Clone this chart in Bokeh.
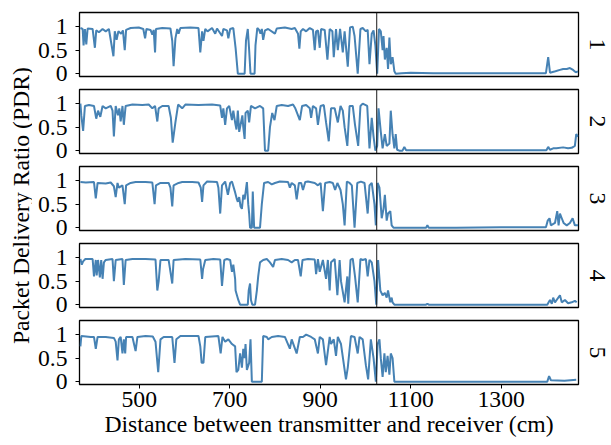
from math import pi
from bokeh.plotting import figure
from bokeh.models import Range1d, FixedTicker, Span, Label, CustomJSTickFormatter
from bokeh.layouts import row, column
from bokeh.embed import file_html
from bokeh.resources import INLINE

# ---------------- data (distance in cm, PDR) ----------------
d1 = [370, 375, 377, 380, 383, 386, 397, 402, 405, 411,
      419, 426, 433, 443, 446, 450, 454, 460, 464, 468,
      471, 481, 499, 509, 513, 516, 525, 529, 532, 535,
      537, 551, 569, 573, 576, 580, 584, 587, 591, 613,
      631, 635, 639, 642, 646, 651, 661, 668, 672, 683,
      686, 694, 697, 701, 708, 713, 718, 733, 736, 740,
      743, 746, 755, 757, 761, 765, 768, 771, 774, 778,
      785, 800, 804, 822, 837, 844, 851, 854, 857, 862,
      869, 877, 884, 888, 891, 895, 899, 902, 910, 916,
      921, 927, 930, 935, 939, 944, 950, 954, 961, 966,
      972, 976, 983, 989, 994, 1001, 1005, 1009, 1014, 1018,
      1022, 1026, 1030, 1034, 1038, 1040, 1043, 1047, 1050, 1053,
      1056, 1060, 1064, 1067, 1080, 1100, 1150, 1250, 1350, 1399,
      1404, 1408, 1420, 1430, 1437, 1445, 1452, 1459, 1465, 1470]
v1 = [0.97, 0.95, 0.6, 0.95, 0.62, 0.96, 0.95, 0.55, 0.92, 0.88,
      0.95, 0.9, 0.95, 0.37, 0.9, 0.72, 0.9, 0.85, 0.92, 0.5,
      0.93, 0.97, 0.98, 0.95, 0.75, 0.95, 0.93, 0.83, 0.93, 0.45,
      0.95, 0.97, 0.96, 0.7, 0.16, 0.75, 0.95, 0.85, 0.97, 0.98,
      0.97, 0.45, 0.9, 0.7, 0.95, 0.9, 0.97, 0.85, 0.96, 0.8,
      0.95, 0.92, 0.75, 0.95, 0.97, 0.55, 0.0, 0.0, 0.7, 0.95,
      0.5, 0.0, 0.0, 0.6, 0.97, 0.93, 0.85, 0.95, 0.72, 0.92,
      0.95, 0.85, 0.96, 0.98, 0.95, 0.97, 0.85, 0.53, 0.9, 0.95,
      0.9, 0.97, 0.93, 0.5, 0.9, 0.92, 0.55, 0.95, 0.93, 0.3,
      0.95, 0.9, 0.35, 0.95, 0.5, 0.95, 0.45, 0.9, 0.15, 0.98,
      1.0, 0.8, 0.0, 0.95, 0.97, 0.9, 0.93, 0.2, 0.85, 0.92,
      0.6, 0.0, 0.95, 0.9, 0.5, 0.8, 0.3, 0.55, 0.1, 0.77,
      0.2, 0.35, 0.05, 0.0, 0.01, 0.02, 0.01, 0.01, 0.01, 0.01,
      0.35, 0.02, 0.05, 0.08, 0.1, 0.1, 0.12, 0.08, 0.03, 0.05]

d2 = [370, 372, 376, 380, 389, 400, 405, 409, 414, 419,
      426, 437, 441, 444, 448, 453, 456, 459, 463, 466,
      470, 485, 507, 521, 529, 535, 540, 543, 551, 565,
      570, 574, 580, 586, 595, 602, 631, 661, 679, 683,
      686, 690, 694, 699, 705, 708, 712, 715, 718, 721,
      725, 728, 730, 733, 735, 740, 743, 747, 756, 767,
      774, 778, 785, 789, 794, 799, 804, 815, 829, 840,
      845, 851, 855, 860, 869, 877, 880, 884, 891, 895,
      901, 908, 913, 919, 924, 932, 939, 945, 950, 954,
      960, 965, 972, 977, 984, 989, 994, 1004, 1009, 1014,
      1018, 1022, 1026, 1029, 1034, 1038, 1043, 1047, 1053, 1056,
      1060, 1064, 1067, 1070, 1075, 1082, 1086, 1090, 1150, 1200,
      1300, 1400, 1404, 1408, 1415, 1422, 1437, 1448, 1456, 1463,
      1466, 1470]
v2 = [1.0, 0.75, 0.42, 0.95, 0.97, 0.95, 0.68, 0.85, 0.72, 0.95,
      0.9, 0.95, 0.85, 0.3, 0.95, 0.75, 0.9, 0.62, 0.95, 0.55,
      0.95, 0.98, 0.97, 0.98, 0.9, 0.95, 0.62, 0.9, 0.95, 0.95,
      0.7, 0.17, 0.6, 0.98, 0.9, 0.98, 0.97, 0.98, 0.96, 0.7,
      0.9, 0.55, 0.9, 0.95, 0.65, 0.85, 0.6, 0.45, 0.85, 0.4,
      0.6, 0.75, 0.5, 0.25, 0.8, 0.85, 0.6, 0.95, 0.9, 0.95,
      0.9, 0.0, 0.0, 0.5, 0.8, 0.65, 0.95, 0.97, 0.95, 0.98,
      0.9, 0.75, 0.65, 0.95, 0.97, 0.9, 0.7, 0.95, 0.9, 0.55,
      0.95, 0.97, 0.6, 0.2, 0.9, 0.9, 0.6, 0.95, 0.85, 0.5,
      0.1, 0.95, 0.95, 0.55, 0.1, 0.95, 1.0, 0.95, 0.05, 0.7,
      0.3, 0.0, 0.1, 0.9, 0.4, 0.05, 0.35, 0.1, 0.15, 0.85,
      0.35, 0.05, 0.35, 0.02, 0.0, 0.0, 0.08, 0.01, 0.01, 0.01,
      0.01, 0.01, 0.08, 0.02, 0.05, 0.05, 0.07, 0.05, 0.06, 0.1,
      0.35, 0.3]

d3 = [370, 382, 400, 404, 408, 426, 437, 444, 448, 452,
      455, 463, 468, 471, 481, 492, 514, 529, 534, 537,
      547, 565, 569, 573, 576, 587, 595, 617, 631, 636,
      639, 642, 650, 672, 675, 679, 683, 690, 696, 701,
      705, 712, 716, 718, 721, 724, 727, 730, 733, 738,
      741, 743, 745, 749, 751, 754, 767, 771, 776, 785,
      793, 800, 811, 829, 833, 837, 844, 848, 853, 858,
      862, 867, 873, 888, 895, 901, 906, 911, 921, 928,
      933, 938, 945, 950, 954, 959, 965, 970, 976, 982,
      990, 998, 1005, 1009, 1014, 1020, 1023, 1027, 1031, 1036,
      1040, 1043, 1047, 1050, 1055, 1058, 1062, 1100, 1134, 1137,
      1140, 1200, 1300, 1399, 1403, 1407, 1410, 1419, 1424, 1427,
      1430, 1434, 1438, 1445, 1452, 1458, 1463, 1470]
v3 = [0.97, 0.96, 0.97, 0.62, 0.95, 0.94, 0.96, 0.88, 0.65, 0.95,
      0.85, 0.9, 0.5, 0.9, 0.95, 0.97, 0.97, 0.96, 0.5, 0.9,
      0.95, 0.95, 0.85, 0.45, 0.9, 0.95, 0.97, 0.97, 0.96, 0.85,
      0.55, 0.9, 0.98, 0.97, 0.85, 0.3, 0.9, 0.98, 0.7, 0.95,
      0.98, 0.75, 0.6, 0.55, 0.65, 0.45, 0.4, 0.7, 0.6, 0.97,
      0.5, 0.3, 0.0, 0.0, 0.77, 0.0, 0.0, 0.5, 0.95, 0.97,
      0.92, 0.95, 0.98, 0.97, 0.85, 0.95, 0.9, 0.6, 0.95, 0.95,
      0.8, 0.97, 0.98, 0.95, 0.9, 0.95, 0.35, 0.95, 0.97, 0.95,
      0.8, 0.95, 0.8, 0.5, 0.05, 0.98, 0.95, 0.9, 0.0, 0.95,
      0.98, 0.95, 0.3, 0.9, 0.95, 0.5, 0.05, 0.95, 0.85, 0.2,
      0.4, 0.7, 0.15, 0.3, 0.35, 0.05, 0.0, 0.0, 0.0, 0.05,
      0.0, 0.0, 0.01, 0.01, 0.15, 0.2, 0.05, 0.1, 0.35, 0.05,
      0.3, 0.2, 0.1, 0.05, 0.1, 0.2, 0.05, 0.05]

d4 = [370, 373, 376, 381, 397, 400, 404, 406, 409, 413,
      416, 419, 422, 426, 441, 444, 448, 463, 466, 470,
      485, 514, 536, 540, 543, 547, 565, 573, 576, 602,
      635, 639, 641, 646, 664, 679, 683, 688, 694, 701,
      705, 708, 712, 713, 716, 719, 723, 740, 742, 745,
      747, 750, 756, 760, 763, 767, 774, 782, 789, 796,
      800, 815, 829, 837, 844, 851, 857, 861, 873, 888,
      891, 895, 899, 906, 913, 917, 921, 924, 932, 938,
      943, 946, 954, 960, 962, 967, 972, 977, 983, 989,
      994, 1001, 1005, 1009, 1014, 1020, 1024, 1028, 1033, 1038,
      1043, 1047, 1050, 1055, 1058, 1060, 1064, 1100, 1134, 1137,
      1140, 1300, 1402, 1405, 1408, 1412, 1415, 1419, 1430, 1434,
      1441, 1448, 1456, 1463, 1467]
v4 = [0.97, 0.85, 0.92, 0.97, 0.97, 0.6, 0.95, 0.62, 0.95, 0.58,
      0.95, 0.55, 0.9, 0.95, 0.97, 0.5, 0.95, 0.97, 0.42, 0.95,
      0.97, 0.97, 0.96, 0.3, 0.5, 0.95, 0.95, 0.45, 0.95, 0.97,
      0.96, 0.55, 0.75, 0.95, 0.97, 0.96, 0.4, 0.95, 0.97, 0.95,
      0.7, 0.85, 0.55, 0.3, 0.2, 0.1, 0.0, 0.0, 0.3, 0.45,
      0.1, 0.0, 0.0, 0.3, 0.6, 0.9, 0.95, 0.97, 0.9, 0.8,
      0.95, 0.97, 0.95, 0.9, 0.95, 0.95, 0.6, 0.95, 0.97, 0.96,
      0.65, 0.97, 0.7, 0.95, 0.55, 0.95, 0.3, 0.9, 0.97, 0.2,
      0.95, 0.5, 0.05, 0.6, 0.02, 0.95, 0.98, 0.6, 0.05, 0.97,
      0.95, 0.97, 0.6, 0.95, 0.9, 0.5, 0.0, 0.95, 0.3, 0.2,
      0.25, 0.15, 0.3, 0.05, 0.15, 0.05, 0.0, 0.0, 0.0, 0.02,
      0.0, 0.0, 0.0, 0.05, 0.1, 0.02, 0.15, 0.05, 0.2, 0.05,
      0.1, 0.03, 0.05, 0.08, 0.05]

d5 = [370, 372, 393, 400, 404, 408, 426, 444, 448, 452,
      455, 459, 463, 466, 469, 471, 485, 492, 496, 514,
      530, 536, 542, 547, 554, 573, 578, 582, 591, 631,
      635, 638, 642, 646, 675, 680, 684, 690, 697, 705,
      712, 715, 719, 723, 727, 730, 733, 735, 738, 743,
      746, 749, 771, 774, 782, 785, 793, 807, 822, 833,
      837, 848, 855, 862, 869, 880, 888, 895, 899, 906,
      913, 921, 924, 930, 935, 939, 946, 957, 961, 968,
      976, 983, 987, 994, 1001, 1006, 1012, 1018, 1023, 1027,
      1031, 1034, 1038, 1042, 1045, 1049, 1053, 1056, 1060, 1064,
      1200, 1402, 1406, 1410, 1440, 1466]
v5 = [0.75, 0.97, 0.95, 0.95, 0.7, 0.95, 0.95, 0.93, 0.85, 0.45,
      0.9, 0.95, 0.6, 0.9, 0.6, 0.95, 0.95, 0.65, 0.95, 0.97,
      0.96, 0.85, 0.2, 0.9, 0.95, 0.95, 0.4, 0.9, 0.97, 0.97,
      0.75, 0.4, 0.4, 0.95, 0.97, 0.6, 0.95, 0.85, 0.9, 0.8,
      0.75, 0.2, 0.25, 0.6, 0.3, 0.7, 0.5, 0.8, 0.25, 0.4,
      0.9, 0.0, 0.0, 0.97, 0.95, 0.9, 0.95, 0.97, 0.95, 0.7,
      0.9, 0.6, 0.95, 0.95, 1.0, 0.95, 0.9, 0.6, 0.95, 0.9,
      0.35, 0.95, 0.8, 0.9, 0.55, 0.95, 0.8, 0.05, 0.3, 0.97,
      0.95, 0.6, 0.95, 0.9, 0.35, 0.05, 0.9, 0.5, 0.0, 0.8,
      0.9, 0.5, 0.1, 0.6, 0.2, 0.55, 0.15, 0.6, 0.5, 0.0,
      0.0, 0.0, 0.12, 0.03, 0.02, 0.04]

panel_labels = ["1", "2", "3", "4", "5"]
x_ticks = [500, 700, 900, 1100, 1300]
y_ticks = [0, 0.5, 1]
switch_distance = 1025
x_label = "Distance between transmitter and receiver (cm)"
y_label = "Packet Delivery Ratio (PDR)"

# ---------------- style ----------------
FONT = "Liberation Serif"
FS = "23.7px"
LINE_COLOR = "#4682b4"
X_LO, X_HI = 368, 1471
Y_LO, Y_HI = -0.06, 1.3

series = [(d1, v1), (d2, v2), (d3, v3), (d4, v4), (d5, v5)]

TOTAL_W, TOTAL_H = 610, 444
YLAB_W = 32
RLAB_W = 30
PANEL_W = TOTAL_W - YLAB_W - RLAB_W
FRAME_H = 64

rows = []
for i, ((d, v), lab) in enumerate(zip(series, panel_labels)):
    first = i == 0
    last = i == len(series) - 1
    top = 12 if first else 2
    bottom = 60 if last else 11
    h = top + FRAME_H + bottom
    yr = Range1d(Y_LO, Y_HI)
    p = figure(width=PANEL_W, height=h,
               x_range=Range1d(X_LO, X_HI), y_range=yr,
               x_axis_location="below" if last else None,
               y_axis_location="left",
               toolbar_location=None, output_backend="svg", title=None,
               min_border_left=47, min_border_right=2,
               min_border_top=top, min_border_bottom=bottom)
    p.background_fill_color = "white"
    p.border_fill_color = "white"
    p.outline_line_color = "black"
    p.outline_line_width = 1.3
    p.grid.visible = False

    ya = p.yaxis[0]
    ya.ticker = FixedTicker(ticks=y_ticks)
    ya.formatter = CustomJSTickFormatter(code="return String(tick)")
    ya.axis_line_color = None
    ya.major_tick_out = 4
    ya.major_tick_in = 0
    ya.major_tick_line_color = "black"
    ya.minor_tick_out = 0
    ya.minor_tick_in = 0
    ya.major_label_standoff = 8
    ya.major_label_text_font = FONT
    ya.major_label_text_font_size = FS
    ya.major_label_text_color = "black"

    if last:
        xa = p.xaxis[0]
        xa.ticker = FixedTicker(ticks=x_ticks)
        xa.axis_line_color = None
        xa.major_tick_out = 4
        xa.major_tick_in = 0
        xa.major_tick_line_color = "black"
        xa.minor_tick_out = 0
        xa.minor_tick_in = 0
        xa.major_label_standoff = 3
        xa.major_label_text_font = FONT
        xa.major_label_text_font_size = FS
        xa.major_label_text_color = "black"
        xa.axis_label = x_label
        xa.axis_label_text_font = FONT
        xa.axis_label_text_font_size = FS
        xa.axis_label_text_font_style = "normal"
        xa.axis_label_text_color = "black"
        xa.axis_label_standoff = 1

    p.line(x=d, y=v, line_color=LINE_COLOR, line_width=2)
    p.add_layout(Span(location=switch_distance, dimension="height",
                      line_color="#1a1a1a", line_width=1))

    # narrow side figure carrying the rotated panel number
    r = figure(width=RLAB_W, height=h, x_range=Range1d(0, 1), y_range=yr,
               x_axis_location=None, y_axis_location=None, toolbar_location=None,
               output_backend="svg", title=None,
               min_border_left=0, min_border_right=0,
               min_border_top=top, min_border_bottom=bottom)
    r.outline_line_color = None
    r.grid.visible = False
    r.add_layout(Label(x=0.58, y=(Y_LO + Y_HI) / 2, text=lab, angle=-pi / 2,
                       text_align="center", text_baseline="middle",
                       text_font=FONT, text_font_size=FS, text_color="black"))
    rows.append(row(p, r))

ylab = figure(width=YLAB_W, height=TOTAL_H, x_range=Range1d(0, 1), y_range=Range1d(0, 1),
              x_axis_location=None, y_axis_location=None, toolbar_location=None,
              output_backend="svg", title=None, min_border=0)
ylab.outline_line_color = None
ylab.grid.visible = False
ylab.add_layout(Label(x=0.625, y=0.538, text=y_label, angle=pi / 2,
                      text_align="center", text_baseline="middle",
                      text_font=FONT, text_font_size=FS, text_color="black"))

layout = row(ylab, column(*rows))
open("out.html", "w").write(file_html(layout, INLINE))
